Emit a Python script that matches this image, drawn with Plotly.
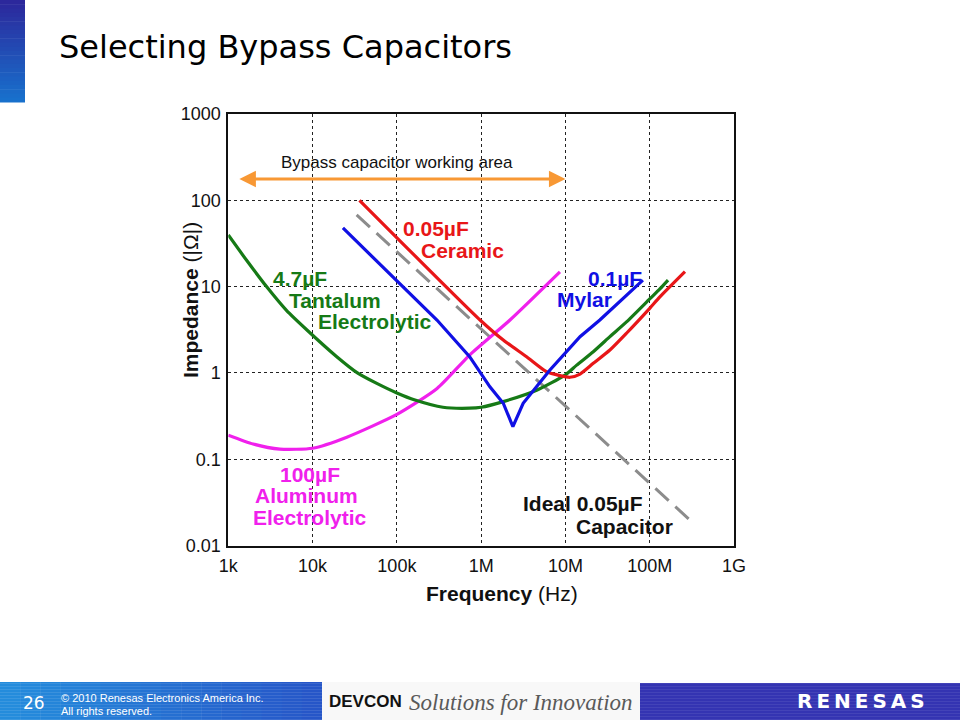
import math
import plotly.graph_objects as go

# ---------------- data ----------------
freq_ticks = [1e3, 1e4, 1e5, 1e6, 1e7, 1e8, 1e9]
freq_labels = ["1k", "10k", "100k", "1M", "10M", "100M", "1G"]
imp_ticks = [0.01, 0.1, 1, 10, 100, 1000]
imp_labels = ["0.01", "0.1", "1", "10", "100", "1000"]

# 4.7uF Tantalum Electrolytic (green)
tant_f = [1.0e3, 1.64e3, 2.84e3, 4.9e3, 8.7e3, 1.92e4, 3.4e4, 5.7e4, 1.0e5, 1.64e5,
          3.52e5, 7.3e5, 1.0e6, 1.83e6, 4.55e6, 1.0e7, 1.36e7, 2.14e7, 3.37e7, 5.3e7,
          1.0e8, 1.32e8, 1.65e8]
tant_z = [39.6, 20.3, 10.0, 5.3, 3.1, 1.55, 1.0, 0.76, 0.585, 0.485,
          0.40, 0.39, 0.40, 0.465, 0.63, 0.95, 1.23, 1.76, 2.63, 3.9,
          7.2, 9.4, 11.9]

# 0.05uF Ceramic (red)
cer_f = [3.6e4, 9.7e5, 1.83e6, 3.46e6, 5.98e6, 8.6e6, 1.13e7, 1.49e7, 2.14e7, 3.37e7,
         5.3e7, 1.0e8, 1.32e8, 2.62e8]
cer_z = [100, 4.1, 2.4, 1.54, 1.03, 0.93, 0.89, 0.97, 1.29, 1.84,
         2.88, 5.6, 7.6, 14.9]

# 0.1uF Mylar (blue)
myl_f = [2.29e4, 2.99e5, 7.3e5, 1.27e6, 1.83e6, 2.38e6, 3.15e6, 4.55e6, 6.55e6,
         1.49e7, 2.56e7, 8.3e7]
myl_z = [47.8, 4.1, 1.54, 0.69, 0.445, 0.238, 0.445, 0.69, 1.08,
         2.63, 4.1, 11.9]

# 100uF Aluminum Electrolytic (magenta)
al_f = [1.0e3, 1.97e3, 4.1e3, 1.0e4, 2.55e4, 1.0e5, 3.0e5, 7.3e5, 2.2e6, 8.6e6]
al_z = [0.19, 0.15, 0.131, 0.134, 0.18, 0.33, 0.66, 1.61, 4.1, 14.8]

# Ideal 0.05uF capacitor (gray dashed)
ideal_f = [3.33e4, 3.15e8]
ideal_z = [67.6, 0.0189]

# Bypass capacitor working area (orange arrow)
work_f = [1.3e3, 1.0e7]
work_z = 176

# ---------------- figure ----------------
RED = "rgb(232,22,24)"
GREEN = "rgb(22,122,22)"
BLUE = "rgb(16,16,228)"
MAGENTA = "rgb(240,32,236)"
GRAY = "rgb(140,140,140)"
ORANGE = "rgb(248,152,52)"

fig = go.Figure()


def add_curve(f, z, color, shape="spline", dash="solid", width=3.2):
    fig.add_trace(go.Scatter(
        x=f, y=z, mode="lines",
        line=dict(color=color, width=width, dash=dash, shape=shape,
                  smoothing=0.6 if shape == "spline" else None),
        hoverinfo="skip"))


add_curve(ideal_f, ideal_z, GRAY, shape="linear", dash="18px,9px", width=3)
add_curve(al_f, al_z, MAGENTA)
add_curve(tant_f, tant_z, GREEN)
add_curve(cer_f, cer_z, RED)
add_curve(myl_f, myl_z, BLUE, shape="linear")

W, H = 960, 720
XL, XR, YT, YB = 228.3, 734.0, 114.0, 545.5

axis_font = dict(family="Liberation Sans, Arial, sans-serif", size=18, color="#111")
fig.update_xaxes(type="log", range=[3, 9], domain=[XL / W, XR / W], automargin=False,
                 tickvals=freq_ticks, ticktext=freq_labels, ticks="",
                 showgrid=True, gridcolor="#222", gridwidth=1, griddash="3px,3px",
                 showline=True, linecolor="#111", linewidth=2, mirror=True,
                 zeroline=False, tickfont=axis_font, ticklabelstandoff=3)
fig.update_yaxes(type="log", range=[-2, 3], domain=[1 - YB / H, 1 - YT / H], automargin=False,
                 tickvals=imp_ticks, ticktext=imp_labels, ticks="",
                 showgrid=True, gridcolor="#222", gridwidth=1, griddash="3px,3px",
                 showline=True, linecolor="#111", linewidth=2, mirror=True,
                 zeroline=False, tickfont=axis_font, ticklabelstandoff=2)

ann = []


def px(x, y):
    return x / W, 1 - y / H


def label(text, x, y, color, size=21, bold=True, family="Liberation Sans, Arial, sans-serif",
          xanchor="center", yanchor="middle", textangle=0):
    xp, yp = px(x, y)
    ann.append(dict(text=("<b>%s</b>" % text) if bold else text, x=xp, y=yp,
                    xref="paper", yref="paper", showarrow=False,
                    xanchor=xanchor, yanchor=yanchor, textangle=textangle,
                    font=dict(family=family, size=size, color=color)))


# working-area arrow (data coordinates on log axes -> log10 values)
ann.append(dict(x=math.log10(work_f[1]), y=math.log10(work_z),
                ax=math.log10(work_f[0]), ay=math.log10(work_z),
                xref="x", yref="y", axref="x", ayref="y", text="",
                showarrow=True, arrowhead=2, startarrowhead=2, arrowside="end+start",
                arrowsize=1.1, startarrowsize=1.1, arrowwidth=3, arrowcolor=ORANGE,
                standoff=0, startstandoff=0))
label("Bypass capacitor working area", 397, 163, "#111", size=17, bold=False)

# curve labels
label("0.05µF", 436, 228.5, RED)
label("Ceramic", 462.5, 250, RED)
label("4.7µF", 300, 278.5, GREEN)
label("Tantalum", 335, 300, GREEN)
label("Electrolytic", 374.5, 321, GREEN)
label("0.1µF", 615, 278, BLUE)
label("Mylar", 584.5, 299, BLUE)
label("100µF", 310, 474, MAGENTA)
label("Aluminum", 306.5, 495, MAGENTA)
label("Electrolytic", 310, 517, MAGENTA)
label("Ideal 0.05µF", 583, 504, "#111")
label("Capacitor", 624, 526, "#111")

# axis titles
label("<b>Frequency</b> (Hz)", 502, 593, "#111", size=21, bold=False)
label("<b>Impedance</b> (|Ω|)", 190, 300, "#111", size=21, bold=False, textangle=-90)

# slide title
label("Selecting Bypass Capacitors", 57, 47, "#000", size=32, bold=False,
      family="DejaVu Sans, Verdana, sans-serif", xanchor="left")

# footer texts
label("26", 34, 703, "white", size=17, bold=False, family="DejaVu Sans, Verdana, sans-serif")
label("© 2010 Renesas Electronics America Inc.", 59, 698, "white", size=11, bold=False,
      xanchor="left")
label("All rights reserved.", 59, 711, "white", size=11, bold=False, xanchor="left")
label("DEVCON", 327, 701, "#111", size=17, bold=True,
      family="Liberation Sans Narrow, Arial Narrow, Liberation Sans, sans-serif",
      xanchor="left")
label("<i>Solutions for Innovation</i>", 407, 702, "#5a5a5a", size=23, bold=False,
      family="Liberation Serif, Times New Roman, serif", xanchor="left")
label("R\u2009E\u2009N\u2009E\u2009S\u2009A\u2009S", 861, 701, "white", size=20, bold=True,
      family="DejaVu Sans, Verdana, sans-serif")

fig.update_layout(annotations=ann)

# ---------------- decorations ----------------
shapes = []


def rect(x0, y0, x1, y1, color, layer="below"):
    shapes.append(dict(type="rect", xref="paper", yref="paper",
                       x0=x0 / W, x1=x1 / W, y0=1 - y1 / H, y1=1 - y0 / H,
                       fillcolor=color, line=dict(width=0), layer=layer))


def mix(c0, c1, t):
    return "rgb(%d,%d,%d)" % tuple(round(a + (b - a) * t) for a, b in zip(c0, c1))


# left title bar gradient
n = 24
for i in range(n):
    y0 = 102 * i / n
    y1 = 102 * (i + 1) / n + 0.5
    rect(0, y0, 25, y1, mix((44, 40, 156), (24, 112, 204), i / (n - 1)))

# footer bands
n = 16
for i in range(n):
    x0 = 322 * i / n
    x1 = 322 * (i + 1) / n + 0.5
    rect(x0, 682, x1, 720, mix((36, 140, 220), (38, 86, 200), i / (n - 1)))
rect(322, 682, 640, 720, "rgb(248,248,248)")
rect(640, 683, 960, 720, "rgb(52,52,178)")
for k in range(13):
    yy = 683 + 3 * k
    rect(0, yy, 322, yy + 1, "rgba(255,255,255,0.10)")
    rect(640, yy, 960, yy + 1, "rgba(255,255,255,0.08)")

fig.update_layout(shapes=shapes, width=W, height=H,
                  margin=dict(l=0, r=0, t=0, b=0, autoexpand=False),
                  paper_bgcolor="white", plot_bgcolor="white", showlegend=False)

fig.write_html("out.html", config={"displayModeBar": False},
               post_script="document.body.style.margin='0';document.body.style.overflow='hidden';")
